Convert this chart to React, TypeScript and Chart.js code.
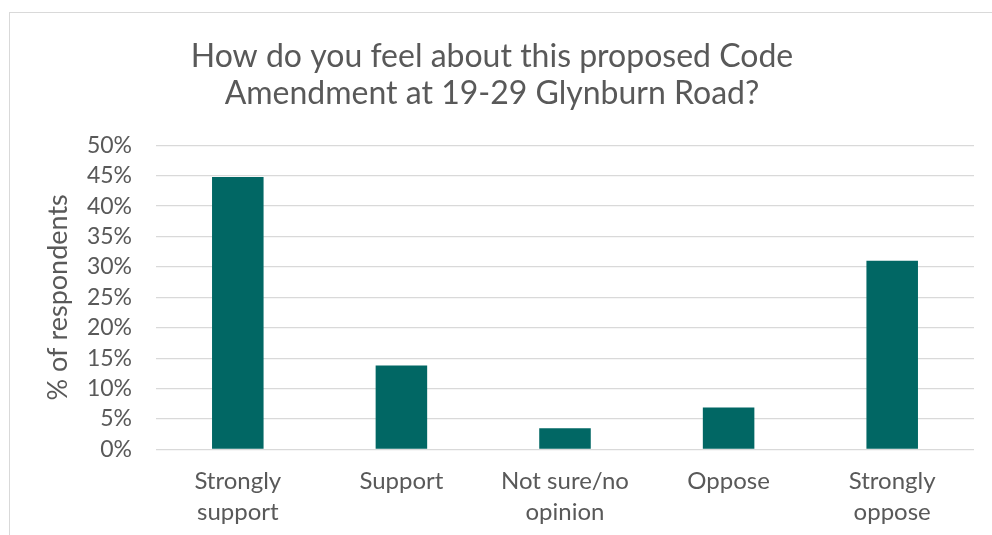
import React, { useEffect, useRef } from "react";
import { Chart, registerables } from "chart.js";

Chart.register(...registerables);

const categories: string[][] = [
  ["Strongly", "support"],
  ["Support"],
  ["Not sure/no", "opinion"],
  ["Oppose"],
  ["Strongly", "oppose"],
];
const respondentsPct: number[] = [44.8, 13.8, 3.5, 6.9, 31.0];
const titleLines: string[] = [
  "How do you feel about this proposed Code",
  "Amendment at 19-29 Glynburn Road?",
];
const yAxisTitle = "% of respondents";
const yMin = 0;
const yMax = 50;
const yStep = 5;

const FONT = "Lato, 'Open Sans', sans-serif";
const TEXT = "#595959";

export default function App() {
  const ref = useRef<HTMLCanvasElement | null>(null);

  useEffect(() => {
    if (!ref.current) return;
    const chart = new Chart(ref.current, {
      type: "bar",
      data: {
        labels: categories,
        datasets: [
          {
            data: respondentsPct,
            backgroundColor: "#016764",
            borderWidth: 0,
            categoryPercentage: 1,
            barPercentage: 0.315,
          },
        ],
      },
      options: {
        animation: false,
        responsive: false,
        maintainAspectRatio: false,
        layout: { padding: { left: 0, right: 18, top: 0, bottom: 0 } },
        plugins: {
          legend: { display: false },
          tooltip: { enabled: false },
          title: {
            display: true,
            text: titleLines,
            color: TEXT,
            font: { family: FONT, size: 32, weight: "normal", lineHeight: 1.16 },
            padding: { top: 25, bottom: 33 },
          },
        },
        scales: {
          x: {
            grid: { display: false, drawTicks: false },
            border: { display: false },
            ticks: {
              color: TEXT,
              font: { family: FONT, size: 24, lineHeight: 1.3 },
              padding: 16,
              maxRotation: 0,
              autoSkip: false,
            },
            afterFit: (s: any) => {
              s.height = 85.5;
            },
          },
          y: {
            min: yMin,
            max: yMax,
            grid: { color: "#d9d9d9", lineWidth: 1.3, drawTicks: false },
            border: { display: false },
            ticks: {
              stepSize: yStep,
              autoSkip: false,
              color: TEXT,
              font: { family: FONT, size: 23 },
              padding: 24,
              callback: (v: any) => v + "%",
            },
            title: {
              display: true,
              text: yAxisTitle,
              color: TEXT,
              font: { family: FONT, size: 27, lineHeight: 1.2 },
              padding: { top: 32, bottom: 0 },
            },
            afterFit: (s: any) => {
              s.width = 146;
            },
          },
        },
      },
    });
    return () => chart.destroy();
  }, []);

  return (
    <div
      style={{
        position: "fixed",
        left: 0,
        top: 0,
        width: 992,
        height: 535,
        overflow: "hidden",
        background: "#ffffff",
      }}
    >
      <div
        style={{
          position: "absolute",
          left: 9,
          top: 12,
          width: 1000,
          height: 540,
          border: "1px solid #d9d9d9",
          boxSizing: "border-box",
          background: "#ffffff",
        }}
      />
      <canvas
        ref={ref}
        width={982}
        height={522}
        style={{ position: "absolute", left: 10, top: 13, width: 982, height: 522 }}
      />
    </div>
  );
}
